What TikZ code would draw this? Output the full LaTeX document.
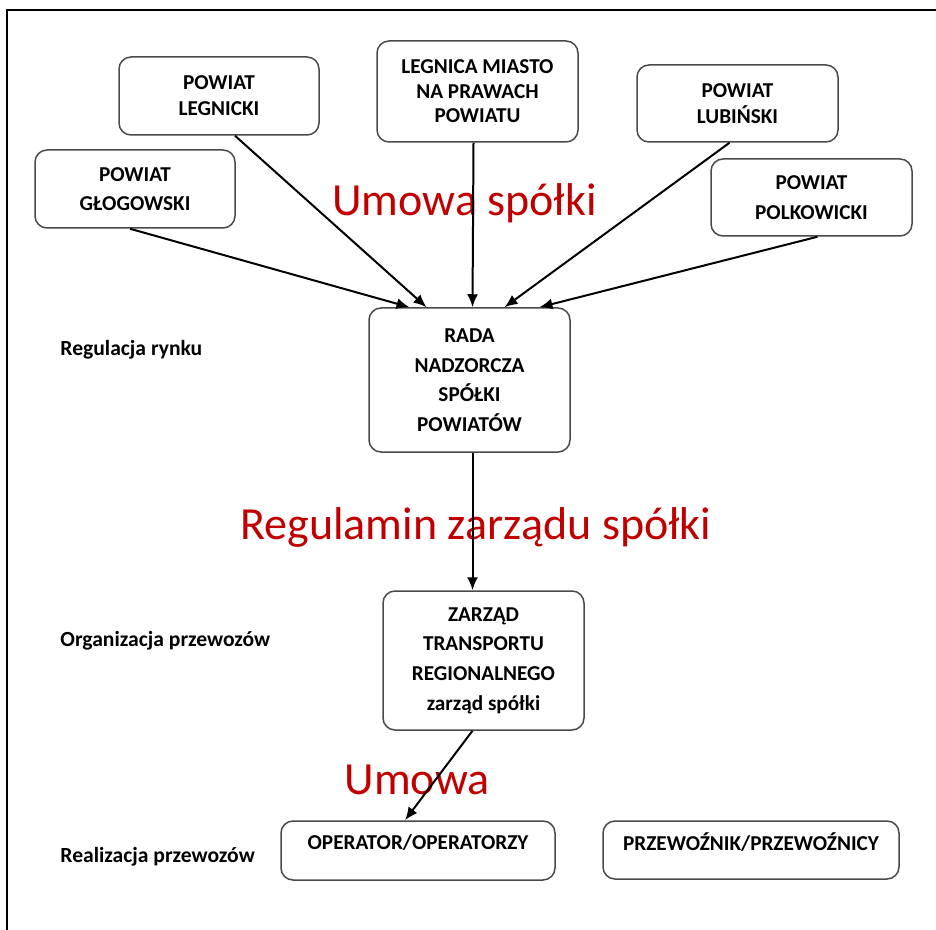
\documentclass[tikz,border=0pt]{standalone}
\usepackage{fontspec}
\setmainfont{Carlito}
\usepackage{xcolor}
\definecolor{umred}{HTML}{C00000}
\definecolor{bxgray}{HTML}{4A4A4A}
\usepackage{tikz}
\usetikzlibrary{arrows.meta}

\begin{document}
\begin{tikzpicture}[x=0.5pt,y=-0.5pt,
  box/.style={rectangle,rounded corners=6pt,draw=bxgray,line width=0.75pt,align=center,inner sep=2pt,font=\bfseries\fontsize{10.6}{13}\selectfont},
  tall/.style={font=\bfseries\fontsize{10.6}{14.8}\selectfont},
  lvl/.style={anchor=west,inner sep=0pt,font=\bfseries\fontsize{10.8}{13}\selectfont},
  doc/.style={text=umred,font=\fontsize{23}{26}\selectfont},
  arr/.style={-{Latex[length=6.5pt,width=5.5pt]},draw=black,line width=1pt}]
\useasboundingbox (0,0) rectangle (936,930);
\draw[line width=1pt] (7,930) -- (7,10) -- (936,10);
% powiaty
\node[box,minimum width=100pt,minimum height=39pt] (legn) at (219,96) {POWIAT\\LEGNICKI};
\node[box,minimum width=100.5pt,minimum height=50.5pt,font=\bfseries\fontsize{10.6}{12.3}\selectfont] (miasto) at (477.5,91.5) {LEGNICA MIASTO\\NA PRAWACH\\POWIATU};
\node[box,minimum width=100.5pt,minimum height=38.5pt] (lub) at (737.5,103.5) {POWIAT\\LUBIŃSKI};
\node[box,tall,minimum width=100pt,minimum height=39pt] (glog) at (135,189) {POWIAT\\GŁOGOWSKI};
\node[box,tall,minimum width=100.5pt,minimum height=38.5pt] (polk) at (811.5,197.5) {POWIAT\\POLKOWICKI};
% szczeble
\node[box,tall,minimum width=100.5pt,minimum height=72pt] (rada) at (469.5,380) {RADA\\NADZORCZA\\SPÓŁKI\\POWIATÓW};
\node[box,tall,minimum width=100.5pt,minimum height=69.5pt] (ztr) at (483.5,660.5) {ZARZĄD\\TRANSPORTU\\REGIONALNEGO\\zarząd spółki};
\node[box,minimum width=137pt,minimum height=29.5pt,text height=7.5pt,text depth=8.2pt] (oper) at (418,850.5) {OPERATOR/OPERATORZY};
\node[box,minimum width=148pt,minimum height=29pt,text height=7.5pt,text depth=7.5pt] (przew) at (751,850) {PRZEWOŹNIK/PRZEWOŹNICY};
\node[lvl] (reg) at (60,350) {Regulacja rynku};
\node[lvl] (org) at (60,641) {Organizacja przewozów};
\node[lvl] (real) at (60,857) {Realizacja przewozów};
\node[doc] (umsp) at (464.5,203) {Umowa spółki};
\node[doc] (regz) at (476,527) {Regulamin zarządu spółki};
\node[doc] (um) at (417,780) {Umowa};
% strzalki
\draw[arr] ([xshift=8pt]legn.south) -- ([xshift=-21.5pt]rada.north);
\draw[arr] ([xshift=-2.5pt]glog.south) -- ([xshift=-30pt]rada.north);
\draw[arr] ([xshift=-2pt]miasto.south) -- ([xshift=1.5pt]rada.north);
\draw[arr] ([xshift=-4pt]lub.south) -- ([xshift=17.5pt]rada.north);
\draw[arr] ([xshift=3pt]polk.south) -- ([xshift=35pt]rada.north);
\draw[arr] ([xshift=1.5pt]rada.south) -- ([xshift=-5.5pt]ztr.north);
\draw[arr] ([xshift=-5.5pt]ztr.south) -- ([xshift=-6.5pt]oper.north);
\end{tikzpicture}
\end{document}
